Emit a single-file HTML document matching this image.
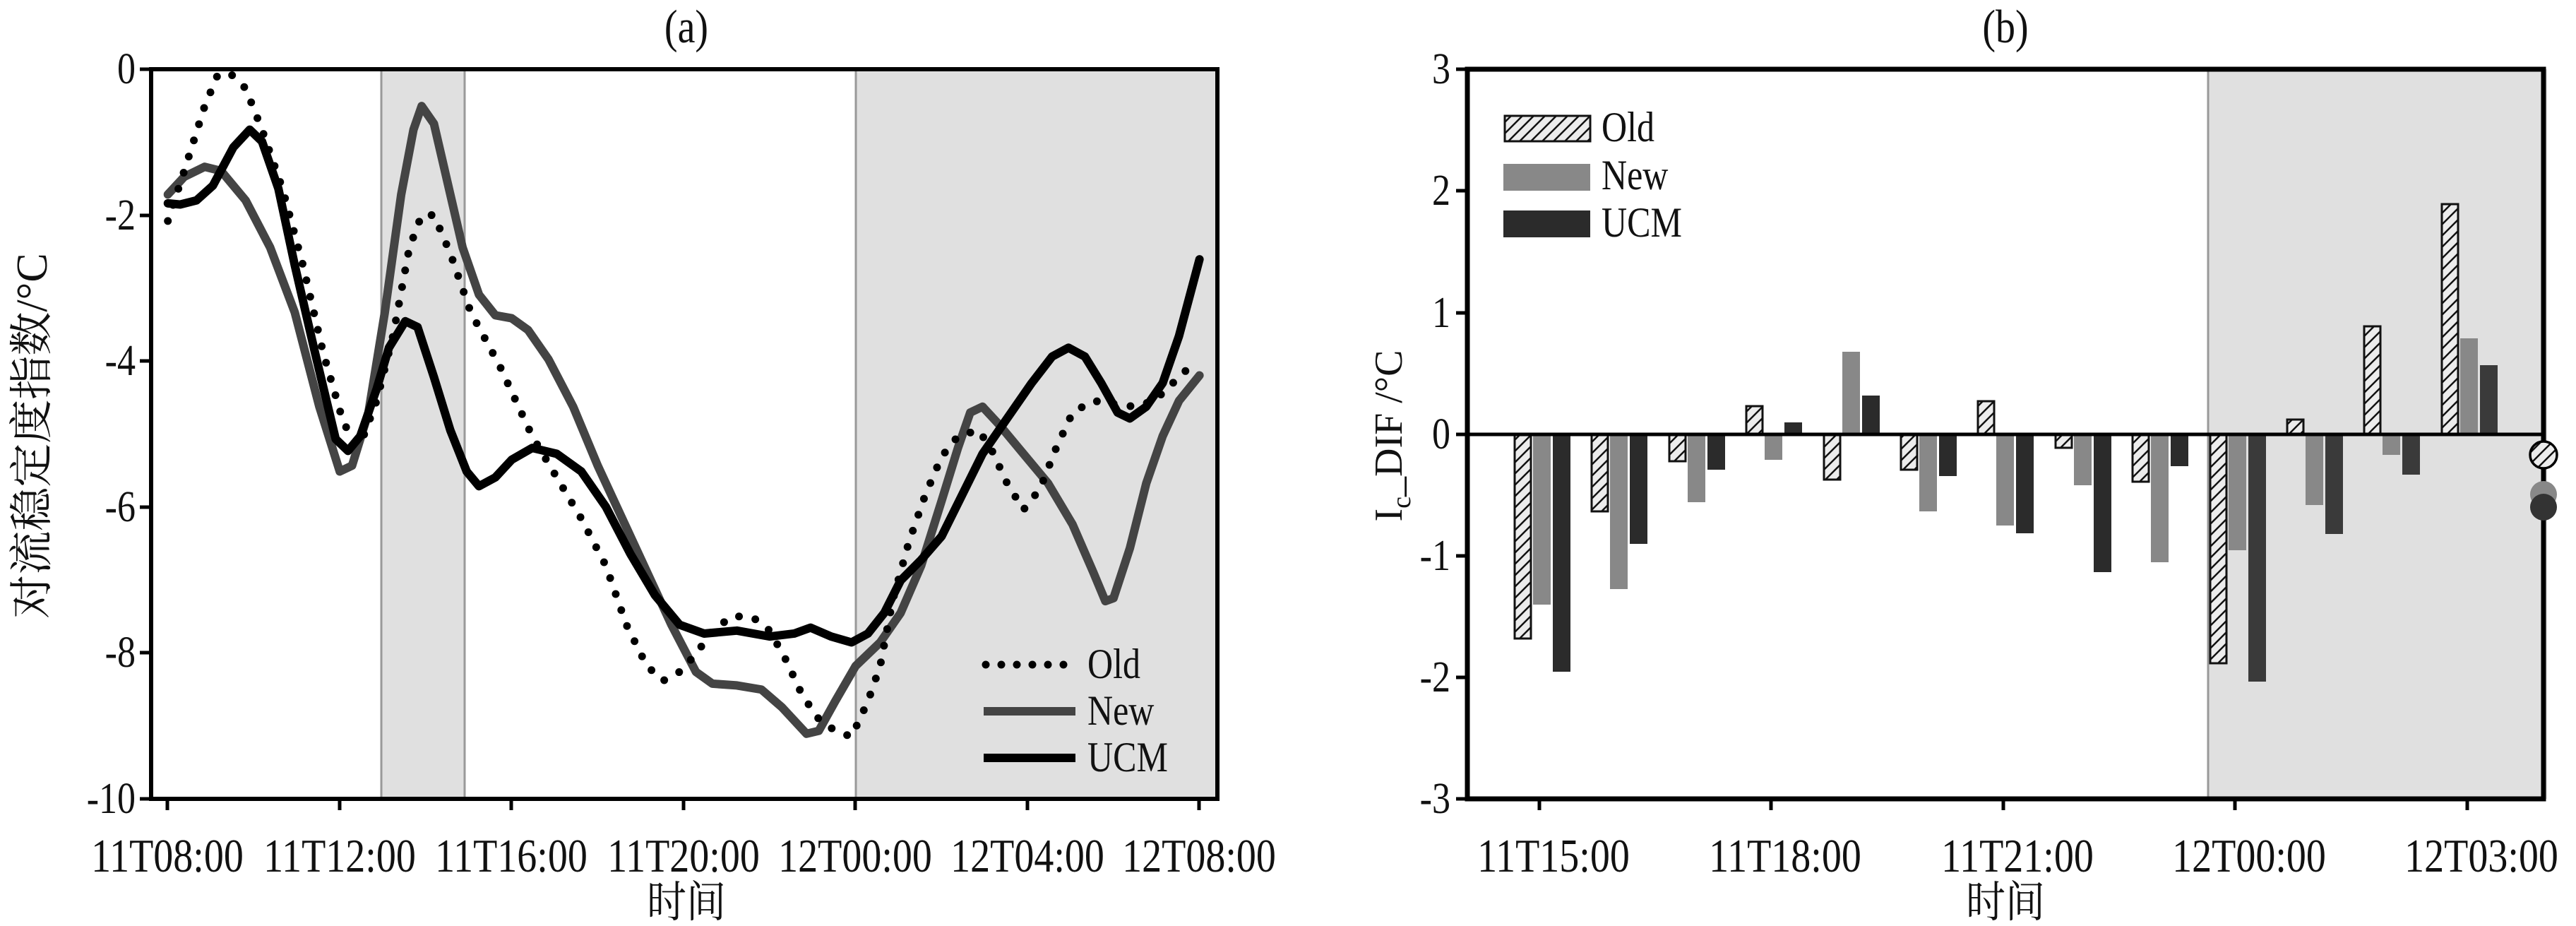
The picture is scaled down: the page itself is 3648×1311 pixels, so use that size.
<!DOCTYPE html>
<html><head><meta charset="utf-8"><style>
html,body{margin:0;padding:0;background:#fff;}
svg{display:block;}
text{font-family:"Liberation Serif","Noto Serif CJK SC","Noto Sans CJK SC",serif;fill:#111;}
</style></head><body>
<svg width="3648" height="1311" viewBox="0 0 3648 1311" xmlns="http://www.w3.org/2000/svg">
<defs>
<pattern id="h" patternUnits="userSpaceOnUse" width="16" height="16">
<rect width="16" height="16" fill="#ececec"/>
<path d="M-4,20 L20,-4 M-4,4 L4,-4 M12,20 L20,12" stroke="#111" stroke-width="2.5"/>
</pattern>
</defs>

<!-- ===== Panel (a) ===== -->
<rect x="540" y="98" width="118" height="1033" fill="#e0e0e0"/>
<rect x="1212" y="98" width="512" height="1033" fill="#e0e0e0"/>
<g stroke="#999" stroke-width="3">
<line x1="540" y1="98" x2="540" y2="1131"/><line x1="658" y1="98" x2="658" y2="1131"/>
<line x1="1212" y1="98" x2="1212" y2="1131"/>
</g>
<g transform="scale(1.1595,0.8344)" fill="none" stroke-linejoin="round" stroke-linecap="round">
<polyline vector-effect="non-scaling-stroke" stroke="#444" stroke-width="12" points="205,330 225,300 250,283 270,290 300,340 330,420 360,530 390,690 415,800 430,790 450,700 470,530 490,330 505,220 515,180 530,210 545,300 565,420 585,500 605,535 625,540 645,560 670,610 700,690 730,790 760,880 790,970 820,1060 850,1140 870,1160 900,1163 930,1170 955,1200 985,1245 1000,1240 1020,1190 1045,1130 1075,1090 1100,1040 1125,960 1150,850 1170,760 1185,700 1200,690 1220,720 1250,770 1280,820 1310,890 1335,970 1350,1020 1360,1015 1380,930 1400,820 1420,740 1440,680 1465,637"/>
<polyline vector-effect="non-scaling-stroke" stroke="#000" stroke-width="12" points="205,345 220,347 240,340 260,315 285,250 305,220 320,240 340,320 360,450 385,600 410,745 425,765 440,740 460,660 475,590 495,545 510,555 530,640 550,730 570,800 585,825 605,810 625,780 650,760 680,770 710,800 740,860 770,940 800,1010 830,1060 860,1075 900,1070 940,1080 970,1075 990,1065 1015,1080 1040,1090 1060,1075 1080,1040 1100,985 1125,950 1150,910 1175,840 1200,770 1230,710 1260,650 1285,605 1305,590 1325,605 1345,650 1365,700 1380,710 1400,690 1420,650 1440,570 1465,440"/>
<polyline vector-effect="non-scaling-stroke" stroke="#000" stroke-width="11" stroke-dasharray="0 24" points="205,375 225,290 250,180 265,130 280,123 300,150 320,220 345,320 370,450 395,600 420,720 440,755 460,680 480,570 500,420 515,365 530,365 550,430 575,530 610,620 650,740 680,810 710,880 740,960 765,1060 790,1130 810,1155 830,1140 850,1110 870,1070 895,1045 920,1048 940,1070 960,1120 980,1180 1000,1220 1020,1240 1040,1250 1060,1190 1075,1130 1090,1020 1110,920 1130,840 1150,775 1170,740 1195,730 1210,760 1230,820 1250,865 1270,830 1290,760 1310,700 1335,680 1360,685 1385,690 1410,680 1440,640 1455,620"/>
</g>
<rect x="214" y="98" width="1510" height="1033" fill="none" stroke="#000" stroke-width="6"/>
<g stroke="#000" stroke-width="5">
<line x1="198" y1="98" x2="214" y2="98"/><line x1="198" y1="305" x2="214" y2="305"/><line x1="198" y1="511" x2="214" y2="511"/><line x1="198" y1="718" x2="214" y2="718"/><line x1="198" y1="924" x2="214" y2="924"/><line x1="198" y1="1131" x2="214" y2="1131"/>
<line x1="237" y1="1131" x2="237" y2="1147"/><line x1="481" y1="1131" x2="481" y2="1147"/><line x1="724" y1="1131" x2="724" y2="1147"/><line x1="968" y1="1131" x2="968" y2="1147"/><line x1="1211" y1="1131" x2="1211" y2="1147"/><line x1="1455" y1="1131" x2="1455" y2="1147"/><line x1="1698" y1="1131" x2="1698" y2="1147"/>
</g>
<g font-size="52" text-anchor="end">
<text transform="translate(192,118) scale(1,1.2)">0</text>
<text transform="translate(192,325) scale(1,1.2)">-2</text>
<text transform="translate(192,531) scale(1,1.2)">-4</text>
<text transform="translate(192,738) scale(1,1.2)">-6</text>
<text transform="translate(192,944) scale(1,1.2)">-8</text>
<text transform="translate(192,1151) scale(1,1.2)">-10</text>
</g>
<g font-size="56" text-anchor="middle">
<text transform="translate(237,1234) scale(1,1.2)">11T08:00</text>
<text transform="translate(481,1234) scale(1,1.2)">11T12:00</text>
<text transform="translate(724,1234) scale(1,1.2)">11T16:00</text>
<text transform="translate(968,1234) scale(1,1.2)">11T20:00</text>
<text transform="translate(1211,1234) scale(1,1.2)">12T00:00</text>
<text transform="translate(1455,1234) scale(1,1.2)">12T04:00</text>
<text transform="translate(1698,1234) scale(1,1.2)">12T08:00</text>
<text transform="translate(972,60) scale(1,1.2)">(a)</text>
<text transform="translate(972,1298) scale(1,1.1)">时间</text>
</g>
<text font-size="62" text-anchor="middle" transform="translate(66,617) rotate(-90)">对流稳定度指数/°C</text>
<!-- legend a -->
<line x1="1396" y1="941" x2="1520" y2="941" stroke="#000" stroke-width="11" stroke-linecap="round" stroke-dasharray="0 22"/>
<line x1="1393" y1="1007" x2="1523" y2="1007" stroke="#444" stroke-width="12"/>
<line x1="1393" y1="1073" x2="1523" y2="1073" stroke="#000" stroke-width="12"/>
<g font-size="50">
<text transform="translate(1540,960) scale(1,1.2)">Old</text>
<text transform="translate(1540,1026) scale(1,1.2)">New</text>
<text transform="translate(1540,1092) scale(1,1.2)">UCM</text>
</g>

<!-- ===== Panel (b) ===== -->
<rect x="3127" y="98" width="480" height="1033" fill="#e0e0e0"/>
<line x1="3127" y1="98" x2="3127" y2="1131" stroke="#999" stroke-width="3"/>
<g stroke-width="3">
<g fill="url(#h)" stroke="#111">
<rect x="2145" y="615" width="23" height="289"/>
<rect x="2254" y="615" width="23" height="109"/>
<rect x="2364" y="615" width="23" height="38"/>
<rect x="2473" y="575" width="23" height="40"/>
<rect x="2583" y="615" width="23" height="64"/>
<rect x="2692" y="615" width="23" height="50"/>
<rect x="2801" y="568" width="23" height="47"/>
<rect x="2911" y="615" width="23" height="19"/>
<rect x="3020" y="615" width="23" height="67"/>
<rect x="3130" y="615" width="23" height="324"/>
<rect x="3239" y="594" width="23" height="21"/>
<rect x="3348" y="462" width="23" height="153"/>
<rect x="3458" y="289" width="23" height="326"/>
</g>
<g fill="#888" stroke="none">
<rect x="2171" y="615" width="25" height="241"/>
<rect x="2280" y="615" width="25" height="219"/>
<rect x="2390" y="615" width="25" height="96"/>
<rect x="2499" y="615" width="25" height="36"/>
<rect x="2609" y="498" width="25" height="117"/>
<rect x="2718" y="615" width="25" height="109"/>
<rect x="2827" y="615" width="25" height="129"/>
<rect x="2937" y="615" width="25" height="72"/>
<rect x="3046" y="615" width="25" height="181"/>
<rect x="3156" y="615" width="25" height="164"/>
<rect x="3265" y="615" width="25" height="100"/>
<rect x="3374" y="615" width="25" height="29"/>
<rect x="3484" y="479" width="25" height="136"/>
</g>
<g fill="#2b2b2b" stroke="none">
<rect x="2199" y="615" width="25" height="336"/>
<rect x="2308" y="615" width="25" height="155"/>
<rect x="2418" y="615" width="25" height="50"/>
<rect x="2527" y="598" width="25" height="17"/>
<rect x="2637" y="560" width="25" height="55"/>
<rect x="2746" y="615" width="25" height="59"/>
<rect x="2855" y="615" width="25" height="140"/>
<rect x="2965" y="615" width="25" height="195"/>
<rect x="3074" y="615" width="25" height="45"/>
</g>
<g fill="#3a3a3a" stroke="none">
<rect x="3184" y="615" width="25" height="350"/>
<rect x="3293" y="615" width="25" height="141"/>
<rect x="3402" y="615" width="25" height="57"/>
<rect x="3512" y="517" width="25" height="98"/>
</g>
</g>
<line x1="2078" y1="615" x2="3602" y2="615" stroke="#000" stroke-width="5"/>
<rect x="2078" y="98" width="1524" height="1033" fill="none" stroke="#000" stroke-width="7"/>
<circle cx="3602" cy="700" r="19" fill="#888"/>
<circle cx="3602" cy="718" r="19" fill="#333"/>
<circle cx="3602" cy="644" r="19" fill="url(#h)" stroke="#000" stroke-width="3.5"/>
<g stroke="#000" stroke-width="5">
<line x1="2062" y1="98" x2="2078" y2="98"/><line x1="2062" y1="270" x2="2078" y2="270"/><line x1="2062" y1="443" x2="2078" y2="443"/><line x1="2062" y1="615" x2="2078" y2="615"/><line x1="2062" y1="787" x2="2078" y2="787"/><line x1="2062" y1="959" x2="2078" y2="959"/><line x1="2062" y1="1131" x2="2078" y2="1131"/>
<line x1="2180" y1="1131" x2="2180" y2="1147"/><line x1="2508" y1="1131" x2="2508" y2="1147"/><line x1="2837" y1="1131" x2="2837" y2="1147"/><line x1="3165" y1="1131" x2="3165" y2="1147"/><line x1="3494" y1="1131" x2="3494" y2="1147"/>
</g>
<g font-size="52" text-anchor="end">
<text transform="translate(2054,118) scale(1,1.2)">3</text>
<text transform="translate(2054,290) scale(1,1.2)">2</text>
<text transform="translate(2054,463) scale(1,1.2)">1</text>
<text transform="translate(2054,635) scale(1,1.2)">0</text>
<text transform="translate(2054,807) scale(1,1.2)">-1</text>
<text transform="translate(2054,979) scale(1,1.2)">-2</text>
<text transform="translate(2054,1151) scale(1,1.2)">-3</text>
</g>
<g font-size="56" text-anchor="middle">
<text transform="translate(2200,1234) scale(1,1.2)">11T15:00</text>
<text transform="translate(2528,1234) scale(1,1.2)">11T18:00</text>
<text transform="translate(2857,1234) scale(1,1.2)">11T21:00</text>
<text transform="translate(3185,1234) scale(1,1.2)">12T00:00</text>
<text transform="translate(3514,1234) scale(1,1.2)">12T03:00</text>
<text transform="translate(2840,60) scale(1,1.2)">(b)</text>
<text transform="translate(2840,1298) scale(1,1.1)">时间</text>
</g>
<text font-size="56" text-anchor="middle" transform="translate(1985,617) rotate(-90)">I<tspan font-size="38" dy="12">c</tspan><tspan dy="-12">_DIF /°C</tspan></text>
<!-- legend b -->
<rect x="2131" y="164" width="121" height="36" fill="url(#h)" stroke="#111" stroke-width="3"/>
<rect x="2129" y="232" width="123" height="38" fill="#888"/>
<rect x="2129" y="298" width="123" height="38" fill="#2b2b2b"/>
<g font-size="50">
<text transform="translate(2268,200) scale(1,1.2)">Old</text>
<text transform="translate(2268,268) scale(1,1.2)">New</text>
<text transform="translate(2268,335) scale(1,1.2)">UCM</text>
</g>
</svg>
</body></html>
